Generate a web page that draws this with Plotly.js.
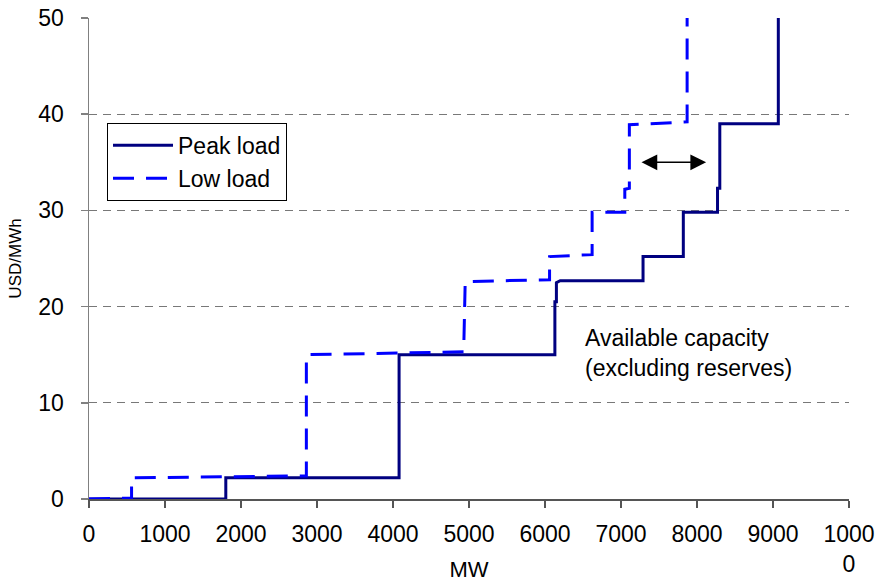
<!DOCTYPE html>
<html>
<head>
<meta charset="utf-8">
<script src="https://cdn.plot.ly/plotly-3.0.1.min.js"></script>
<style>
  html, body { margin: 0; padding: 0; background: #fff; }
  #chart { width: 878px; height: 582px; }
</style>
</head>
<body>
<div id="chart"></div>
<script>
// Supply curves: capacity (MW) vs marginal price (USD/MWh)
const peakMW    = [0, 1800, 1800, 4080, 4080, 6130, 6130, 6150, 6150, 6200, 7290, 7290, 7820, 7820, 8270, 8270, 8300, 8300, 9070, 9070];
const peakPrice = [0, 0,    2.2,  2.2,  15,   15,   20.5, 20.5, 22.5, 22.7, 22.7, 25.2, 25.2, 29.8, 29.8, 32.3, 32.3, 39,   39,   50];

const lowMW     = [0, 560, 560, 2860, 2860, 4930, 4950, 6060, 6060, 6620, 6620, 7050, 7050, 7110, 7110, 7870, 7870];
const lowPrice  = [0, 0.1, 2.2, 2.4,  15,   15.3, 22.6, 22.8, 25.2, 25.4, 29.8, 29.8, 32.2, 32.3, 38.9, 39.2, 50];

const xTickVals = [0, 1000, 2000, 3000, 4000, 5000, 6000, 7000, 8000, 9000, 10000];
const xTickText = ['0', '1000', '2000', '3000', '4000', '5000', '6000', '7000', '8000', '9000', '1000<br>0'];
const yTickVals = [0, 10, 20, 30, 40, 50];

// Spare capacity gap between the two curves, in MW, and where the arrow sits
const gapFrom = 7250, gapTo = 8120, gapLevel = 35;

const FONT = 'Liberation Sans, Arial, sans-serif';

const traces = [
  {
    x: peakMW, y: peakPrice, name: 'Peak load', mode: 'lines',
    line: { color: '#000080', width: 3 }
  },
  {
    x: lowMW, y: lowPrice, name: 'Low load', mode: 'lines',
    line: { color: '#0000FF', width: 3, dash: '21px,12px' }
  }
];

const layout = {
  width: 878, height: 582,
  margin: { l: 89, r: 29, t: 18, b: 83 },
  paper_bgcolor: '#fff', plot_bgcolor: '#fff',
  font: { family: FONT, color: '#000', size: 23 },
  showlegend: true,
  legend: {
    x: 0.0237, y: 0.782, xanchor: 'left', yanchor: 'top',
    bordercolor: '#000', borderwidth: 1, bgcolor: '#fff',
    font: { family: FONT, size: 23, color: '#000' },
    itemwidth: 60, tracegroupgap: 0
  },
  xaxis: {
    range: [0, 10000], tickvals: xTickVals, ticktext: xTickText,
    showgrid: false, zeroline: false,
    showline: true, linecolor: '#555', linewidth: 1.5,
    ticks: 'outside', ticklen: 7, tickcolor: '#555', tickwidth: 1.5,
    ticklabelstandoff: 7,
    tickfont: { family: FONT, size: 23, color: '#000' },
    title: { text: 'MW', font: { family: FONT, size: 22, color: '#000' }, standoff: 4 },
    fixedrange: true
  },
  yaxis: {
    range: [0, 50], tickvals: yTickVals,
    showgrid: true, gridcolor: '#787878', gridwidth: 1, griddash: '8px,6px',
    zeroline: false,
    showline: true, linecolor: '#808080', linewidth: 1.5,
    ticks: 'outside', ticklen: 7, tickcolor: '#808080', tickwidth: 1.5,
    ticklabelstandoff: 12,
    tickfont: { family: FONT, size: 23, color: '#000' },
    title: { text: 'USD/MWh', font: { family: FONT, size: 17, color: '#000' }, standoff: 12 },
    fixedrange: true
  },
  annotations: [
    {
      x: gapTo, y: gapLevel, ax: gapFrom, ay: gapLevel,
      xref: 'x', yref: 'y', axref: 'x', ayref: 'y',
      text: '', showarrow: true,
      arrowside: 'end+start',
      arrowhead: 2, startarrowhead: 2,
      arrowsize: 2.1, startarrowsize: 2.1,
      arrowwidth: 1.5, arrowcolor: '#000',
      standoff: 0, startstandoff: 0
    },
    {
      x: 6500, y: 15.2, xref: 'x', yref: 'y',
      xanchor: 'left', yanchor: 'middle', align: 'left',
      text: 'Available capacity<br>(excluding reserves)',
      showarrow: false,
      font: { family: FONT, size: 23, color: '#000' }
    }
  ]
};

Plotly.newPlot('chart', traces, layout, { displayModeBar: false, staticPlot: true });
</script>
</body>
</html>
